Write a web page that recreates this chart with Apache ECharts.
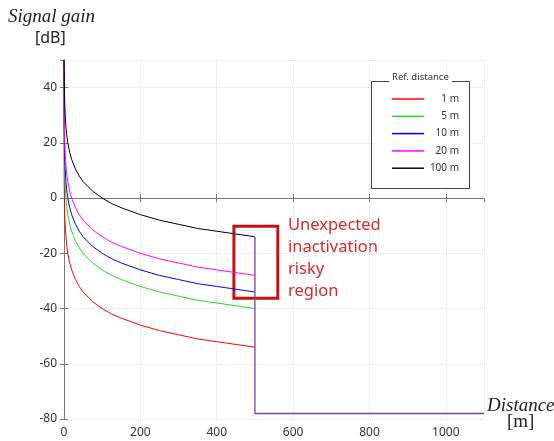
<!DOCTYPE html>
<html>
<head>
<meta charset="utf-8">
<script src="https://cdn.jsdelivr.net/npm/echarts@6/dist/echarts.min.js"></script>
<style>
  html, body { margin: 0; padding: 0; background: #fff; }
  #chart { width: 554px; height: 441px; }
</style>
</head>
<body>
<div id="chart"></div>
<script>
var distances = [0, 0.5, 1, 2, 3, 5, 7, 10, 15, 20, 30, 40, 50, 75, 100, 125, 150, 200, 250, 300, 350, 400, 450, 500];

// signal gain [dB] for each reference distance
var gain1m   = [50, 6, 0, -6, -9.5, -14, -17, -20, -23.5, -26, -29.5, -32, -34, -37.5, -40, -42, -43.5, -46, -48, -49.5, -51, -52, -53, -54];
var gain5m   = [50, 20, 14, 8, 4.5, 0, -3, -6, -9.5, -12, -15.5, -18, -20, -23.5, -26, -28, -29.5, -32, -34, -35.5, -37, -38, -39, -40];
var gain10m  = [50, 26, 20, 14, 10.5, 6, 3, 0, -3.5, -6, -9.5, -12, -14, -17.5, -20, -22, -23.5, -26, -28, -29.5, -31, -32, -33, -34];
var gain20m  = [50, 32, 26, 20, 16.5, 12, 9, 6, 2.5, 0, -3.5, -6, -8, -11.5, -14, -16, -17.5, -20, -22, -23.5, -25, -26, -27, -28];
var gain100m = [50, 46, 40, 34, 30.5, 26, 23, 20, 16.5, 14, 10.5, 8, 6, 2.5, 0, -2, -3.5, -6, -8, -9.5, -11, -12, -13, -14];

var seriesNames = ['1 m', '5 m', '10 m', '20 m', '100 m'];
var seriesColors = ['#ff0000', '#22dd22', '#0000ff', '#ff00ff', '#000000'];
var seriesValues = [gain1m, gain5m, gain10m, gain20m, gain100m];

// cut-off: all curves drop to the floor at 500 m
var dropLine = [[500, -14], [500, -78], [1100, -78]];
// highlighted region (data coords)
var riskyRegion = [[445, -10.2], [560, -36.3]];

function pairs(vals) {
  return distances.map(function (d, i) { return [d, vals[i]]; });
}

var series = seriesValues.map(function (vals, i) {
  return {
    name: seriesNames[i],
    type: 'line',
    data: pairs(vals),
    symbol: 'none',
    lineStyle: { color: seriesColors[i], width: 1 },
    itemStyle: { color: seriesColors[i] },
    z: 3
  };
});

series.push({
  name: 'drop',
  type: 'line',
  data: dropLine,
  symbol: 'none',
  lineStyle: { color: '#7b3fa8', width: 1.3 },
  z: 4,
  markArea: {
    silent: true,
    itemStyle: { color: 'rgba(0,0,0,0)', borderColor: '#c81010', borderWidth: 3 },
    data: [[{ coord: riskyRegion[0] }, { coord: riskyRegion[1] }]]
  }
});

var chart = echarts.init(document.getElementById('chart'));

function plainNum(v) { return String(v); }

var option = {
  animation: false,
  grid: { left: 64, right: 70, top: 60, bottom: 22, containLabel: false },
  legend: {
    data: seriesNames,
    orient: 'vertical',
    left: 387,
    top: 87.5,
    z: 80,
    itemWidth: 32,
    itemHeight: 1.5,
    itemGap: 4.3,
    icon: 'rect',
    formatter: '{a|{name}}',
    textStyle: {
      rich: { a: { width: 30, align: 'right', fontFamily: 'Noto Sans', fontSize: 10, color: '#333', lineHeight: 13, padding: [1.5, 0, 1.5, 0] } }
    }
  },
  xAxis: [{
    type: 'value',
    min: 0,
    max: 1100,
    interval: 200,
    axisLine: { show: true, lineStyle: { color: '#777' } },
    axisTick: { show: true, inside: true, length: 4, lineStyle: { color: '#777' } },
    axisLabel: { margin: 8, fontFamily: 'Noto Sans', fontSize: 12, color: '#333', showMaxLabel: false, formatter: plainNum },
    splitLine: { show: true, lineStyle: { color: '#e2e2e2', type: 'dotted' } }
  }, {
    type: 'value',
    position: 'top',
    min: 0,
    max: 1100,
    interval: 200,
    axisLine: { show: true, lineStyle: { color: '#777' } },
    axisTick: { show: true, inside: true, length: 4, lineStyle: { color: '#777' } },
    axisLabel: { show: false },
    splitLine: { show: false }
  }],
  yAxis: [{
    type: 'value',
    min: -80,
    max: 50,
    interval: 20,
    axisLine: { show: true, lineStyle: { color: '#777' } },
    axisTick: { show: true, inside: true, length: 4, lineStyle: { color: '#777' } },
    axisLabel: { margin: 7, fontFamily: 'Noto Sans', fontSize: 12, color: '#333', showMaxLabel: false, formatter: plainNum },
    splitLine: { show: true, lineStyle: { color: '#e2e2e2', type: 'dotted' } }
  }, {
    type: 'value',
    position: 'right',
    min: -80,
    max: 50,
    interval: 20,
    axisLine: { show: true, lineStyle: { color: '#777' } },
    axisTick: { show: true, inside: true, length: 4, lineStyle: { color: '#777' } },
    axisLabel: { show: false },
    splitLine: { show: false }
  }],
  series: series,
  graphic: [
    {
      type: 'rect', left: 371, top: 81, z: 50,
      shape: { width: 98, height: 107 },
      style: { fill: '#fff', stroke: '#444', lineWidth: 1 }
    },
    {
      type: 'text', left: 389, top: 72, z: 60,
      style: { text: 'Ref. distance', fontFamily: 'Noto Sans', fontSize: 9.5, fill: '#333',
               backgroundColor: '#fff', padding: [0, 3] }
    },
    {
      type: 'text', left: 8, top: 7,
      style: { text: 'Signal gain', fontFamily: 'Liberation Serif', fontStyle: 'italic', fontSize: 19, fill: '#222' }
    },
    {
      type: 'text', left: 35, top: 30,
      style: { text: '[dB]', fontFamily: 'Noto Sans', fontSize: 16, fill: '#222' }
    },
    {
      type: 'text', left: 487, top: 396,
      style: { text: 'Distance', fontFamily: 'Liberation Serif', fontStyle: 'italic', fontSize: 19, fill: '#222' }
    },
    {
      type: 'text', left: 507, top: 413,
      style: { text: '[m]', fontFamily: 'Liberation Serif', fontSize: 19, fill: '#222' }
    },
    {
      type: 'text', left: 288, top: 214,
      style: { text: 'Unexpected\ninactivation\nrisky\nregion', fontFamily: 'Noto Sans', fontSize: 16.5,
               lineHeight: 22, fill: '#d42a2a' }
    }
  ]
};

option && chart.setOption(option);
</script>
</body>
</html>
